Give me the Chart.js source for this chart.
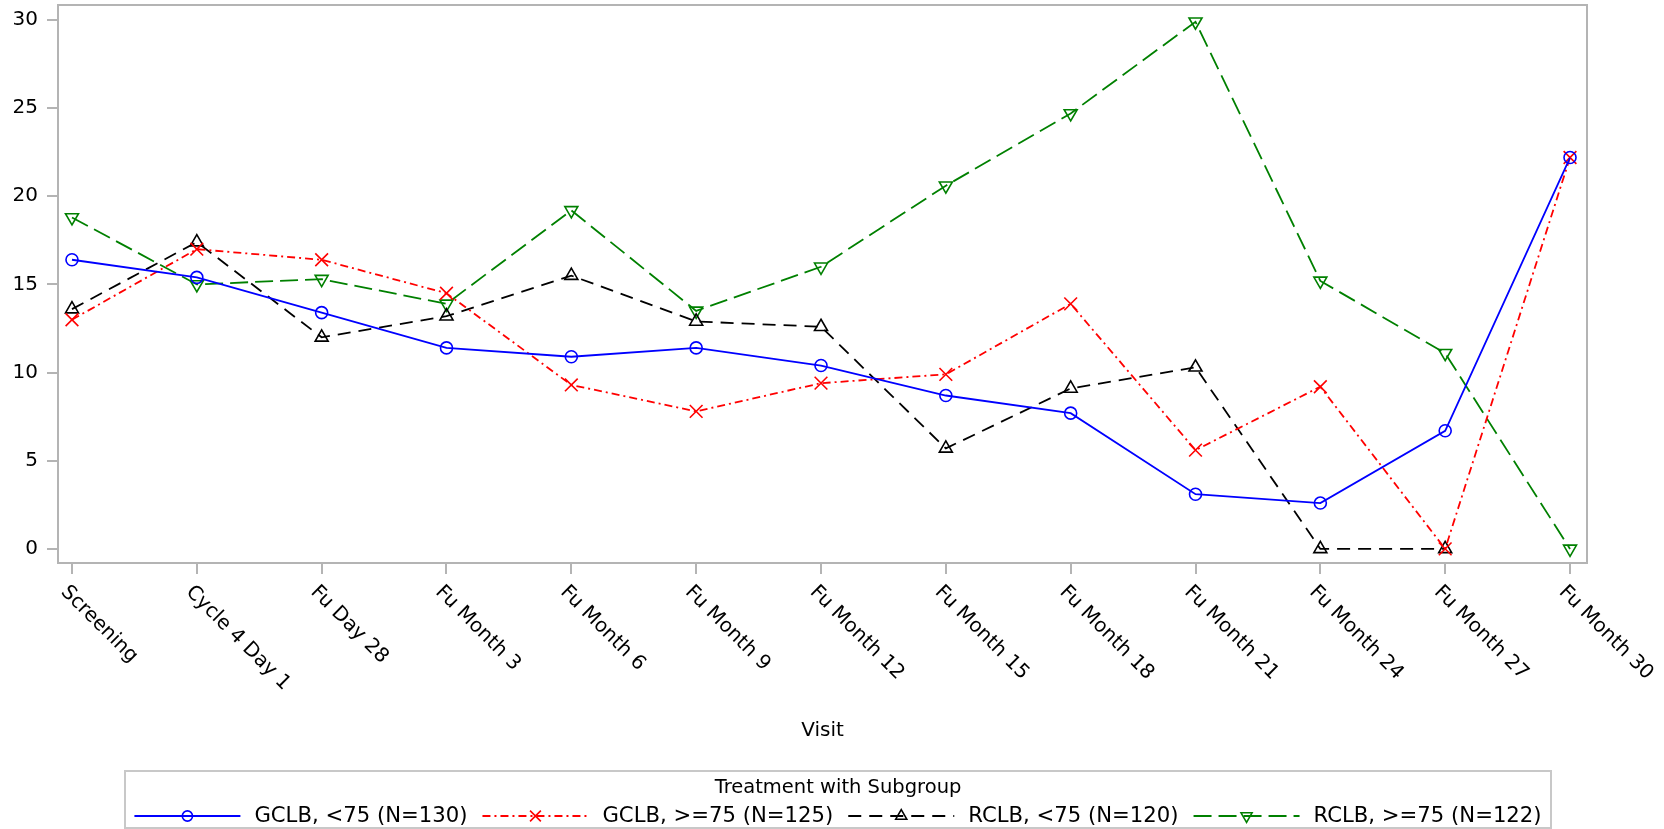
<!DOCTYPE html>
<html>
<head>
<meta charset="utf-8">
<title>Visit profile by treatment and subgroup</title>
<script src="https://cdn.jsdelivr.net/npm/chart.js@4.4.1/dist/chart.umd.min.js"></script>
<style>
  html, body { margin: 0; padding: 0; background: #fff; }
  #wrap { position: relative; width: 1664px; height: 829px; }
</style>
</head>
<body>
<div id="wrap"><canvas id="visitChart"></canvas></div>
<script>
// ---------- DATA ----------
const visits = ["Screening", "Cycle 4 Day 1", "Fu Day 28", "Fu Month 3", "Fu Month 6", "Fu Month 9",
  "Fu Month 12", "Fu Month 15", "Fu Month 18", "Fu Month 21", "Fu Month 24", "Fu Month 27", "Fu Month 30"];
const yTicks = [0, 5, 10, 15, 20, 25, 30];

const gclbUnder75 = [16.4, 15.4, 13.4, 11.4, 10.9, 11.4, 10.4, 8.7, 7.7, 3.1, 2.6, 6.7, 22.2];
const gclbOver75  = [13.0, 17.0, 16.4, 14.5, 9.3, 7.8, 9.4, 9.9, 13.9, 5.6, 9.2, 0, 22.2];
const rclbUnder75 = [13.6, 17.4, 12.0, 13.2, 15.5, 12.9, 12.6, 5.7, 9.1, 10.3, 0, 0, null];
const rclbOver75  = [18.8, 15.0, 15.3, 13.9, 19.2, 13.5, 16.0, 20.6, 24.7, 29.9, 15.2, 11.1, 0];

const legendTitle = "Treatment with Subgroup";
const seriesLabels = ["GCLB, <75 (N=130)", "GCLB, >=75 (N=125)", "RCLB, <75 (N=120)", "RCLB, >=75 (N=122)"];

// ---------- CHART ----------
const FONT = "'DejaVu Sans', sans-serif";
const AXIS_GRAY = "#b4b4b4";

Chart.defaults.font.family = FONT;
Chart.defaults.font.size = 20;
Chart.defaults.color = "#000";

const toPoints = arr => arr.map((v, i) => ({ x: i, y: v }));

function series(label, values, color, dash, style, radius, rotation) {
  return {
    label: label,
    data: toPoints(values),
    borderColor: color,
    borderWidth: 1.8,
    borderDash: dash,
    tension: 0,
    fill: false,
    pointStyle: style,
    pointRadius: radius,
    pointRotation: rotation,
    pointBorderColor: color,
    pointBorderWidth: 1.6,
    pointBackgroundColor: "rgba(0,0,0,0)"
  };
}

// plot frame, rotated visit labels and the boxed legend
const framePlugin = {
  id: "framePlugin",
  beforeDatasetsDraw(chart) {
    const { ctx, chartArea: a } = chart;
    ctx.save();
    ctx.strokeStyle = AXIS_GRAY;
    ctx.lineWidth = 2;
    ctx.strokeRect(a.left, a.top, a.right - a.left, a.bottom - a.top);
    ctx.restore();
  },
  afterDraw(chart) {
    const { ctx, chartArea: a } = chart;
    const xs = chart.scales.x;
    ctx.save();
    ctx.fillStyle = "#000";
    ctx.font = "20px " + FONT;
    ctx.textAlign = "left";
    ctx.textBaseline = "middle";
    visits.forEach((v, i) => {
      const px = xs.getPixelForValue(i);
      ctx.save();
      ctx.translate(px - 8, a.bottom + 26);
      ctx.rotate(Math.PI / 4);
      ctx.fillText(v, 0, 0);
      ctx.restore();
    });

    // legend
    const sets = chart.data.datasets;
    const sampleW = 106, sampleGap = 14, itemGap = 15;
    ctx.font = "21.2px " + FONT;
    const textW = sets.map(d => ctx.measureText(d.label).width);
    const total = textW.reduce((s, w) => s + w, 0) + sets.length * (sampleW + sampleGap) + (sets.length - 1) * itemGap;
    const cx = chart.width / 2 + 6;
    const boxL = Math.round(cx - total / 2 - 9);
    const boxR = Math.round(cx + total / 2 + 9);
    ctx.strokeStyle = "#c8c8c8";
    ctx.lineWidth = 2;
    ctx.strokeRect(boxL, 771, boxR - boxL, 57);

    ctx.font = "19.5px " + FONT;
    ctx.textAlign = "center";
    ctx.fillText(legendTitle, cx, 788);

    ctx.font = "21.2px " + FONT;
    const y = 816;
    let x = cx - total / 2;
    sets.forEach((d, i) => {
      ctx.strokeStyle = d.borderColor;
      ctx.lineWidth = d.borderWidth;
      ctx.setLineDash(d.borderDash);
      ctx.beginPath();
      ctx.moveTo(x, y);
      ctx.lineTo(x + sampleW, y);
      ctx.stroke();
      ctx.setLineDash([]);
      ctx.fillStyle = "rgba(0,0,0,0)";
      ctx.lineWidth = d.pointBorderWidth;
      Chart.helpers.drawPoint(ctx, {
        pointStyle: d.pointStyle,
        radius: d.pointRadius * 0.85,
        rotation: d.pointRotation,
        borderWidth: d.pointBorderWidth
      }, x + sampleW / 2, y);
      ctx.fillStyle = "#000";
      ctx.textAlign = "left";
      ctx.fillText(d.label, x + sampleW + sampleGap, y);
      x += sampleW + sampleGap + textW[i] + itemGap;
    });
    ctx.restore();
  }
};

const ctx = document.getElementById("visitChart").getContext("2d");
new Chart(ctx, {
  type: "line",
  data: {
    datasets: [
      series(seriesLabels[0], gclbUnder75, "#0000ff", [], "circle", 6, 0),
      series(seriesLabels[1], gclbOver75, "#ff0000", [8, 4, 2, 4], "crossRot", 9, 0),
      series(seriesLabels[2], rclbUnder75, "#000000", [13, 8], "triangle", 7.5, 0),
      series(seriesLabels[3], rclbOver75, "#008000", [18, 7], "triangle", 7.5, 180)
    ]
  },
  options: {
    responsive: true,
    maintainAspectRatio: false,
    animation: false,
    events: [],
    layout: { autoPadding: false, padding: { top: 5, right: 77, bottom: 0, left: 0 } },
    plugins: {
      legend: { display: false },
      tooltip: { enabled: false }
    },
    scales: {
      x: {
        type: "linear",
        min: -0.112,
        max: 12.136,
        afterBuildTicks: scale => { scale.ticks = visits.map((v, i) => ({ value: i })); },
        afterFit: scale => { scale.height = 266; scale.paddingLeft = 0; scale.paddingRight = 0; },
        ticks: { display: false },
        grid: { display: true, drawOnChartArea: false, drawTicks: true, tickLength: 11, color: AXIS_GRAY, lineWidth: 2 },
        border: { display: false },
        title: { display: true, text: "Visit", color: "#000", font: { size: 20 }, padding: { top: 0, bottom: 86 } }
      },
      y: {
        type: "linear",
        min: -0.8,
        max: 30.85,
        afterBuildTicks: scale => { scale.ticks = yTicks.map(v => ({ value: v })); },
        afterFit: scale => { scale.width = 58; scale.paddingTop = 0; scale.paddingBottom = 0; },
        // small lineHeight keeps the top label from pushing the plot area down
        ticks: { padding: 9, color: "#000", font: { size: 20, lineHeight: 0.4 } },
        grid: { display: true, drawOnChartArea: false, drawTicks: true, tickLength: 11, color: AXIS_GRAY, lineWidth: 2 },
        border: { display: false }
      }
    }
  },
  plugins: [framePlugin]
});
</script>
</body>
</html>
